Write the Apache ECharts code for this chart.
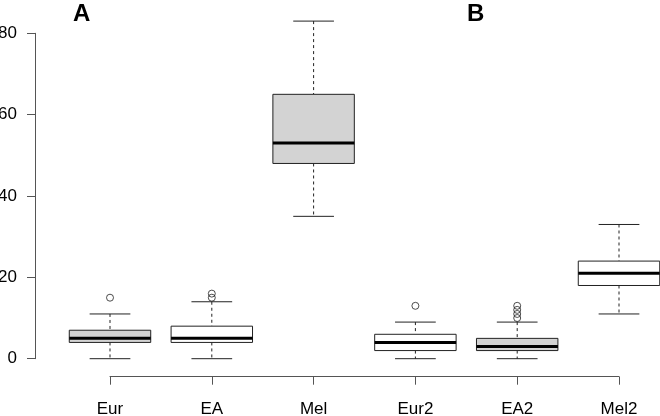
<!DOCTYPE html>
<html>
<head>
<meta charset="utf-8">
<script src="https://cdn.jsdelivr.net/npm/echarts@6/dist/echarts.min.js"></script>
<style>html,body{margin:0;padding:0;background:#fff;}#c{width:660px;height:416px;}</style>
</head>
<body>
<div id="c"></div>
<script>
const categories = ['Eur', 'EA', 'Mel', 'Eur2', 'EA2', 'Mel2'];
// [lower whisker, Q1, median, Q3, upper whisker]
const boxStats = [
  [0, 4, 5, 7, 11],
  [0, 4, 5, 8, 14],
  [35, 48, 53, 65, 83],
  [0, 2, 4, 6, 9],
  [0, 2, 3, 5, 9],
  [11, 18, 21, 24, 33]
];
const shaded = [true, false, true, false, true, false];
const outliers = [
  [0, 15],
  [1, 15], [1, 16],
  [3, 13],
  [4, 10], [4, 11], [4, 12], [4, 13]
];
const yTicks = [0, 20, 40, 60, 80];
const panelLabels = ['A', 'B'];

const chart = echarts.init(document.getElementById('c'), null, {renderer: 'canvas'});
const lineColor = '#555';
const boxData = boxStats.map((s, i) => [i].concat(s).concat([shaded[i] ? 1 : 0]));
const font = 'Liberation Sans, Arial, sans-serif';

chart.setOption({
  animation: false,
  backgroundColor: '#fff',
  title: [
    {text: panelLabels[0], left: 68, top: -3, textStyle: {fontFamily: font, fontSize: 24, fontWeight: 'bold', color: '#000'}},
    {text: panelLabels[1], left: 462, top: -3, textStyle: {fontFamily: font, fontSize: 24, fontWeight: 'bold', color: '#000'}}
  ],
  grid: {left: 110, right: 41, top: 33.3, bottom: 57.3, containLabel: false, outerBoundsMode: 'none'},
  xAxis: {
    type: 'category',
    data: categories,
    boundaryGap: false,
    offset: 18,
    axisLine: {show: true, onZero: false, lineStyle: {color: lineColor, width: 1}},
    axisTick: {show: true, length: 8, inside: false, alignWithLabel: true, lineStyle: {color: lineColor}},
    axisLabel: {margin: 24, fontSize: 17, color: '#000', fontFamily: font},
    splitLine: {show: false}
  },
  yAxis: {
    type: 'value',
    min: yTicks[0],
    max: yTicks[yTicks.length - 1],
    interval: 20,
    offset: 75,
    axisLine: {show: true, onZero: false, lineStyle: {color: lineColor, width: 1}},
    axisTick: {show: true, length: 8, lineStyle: {color: lineColor}},
    axisLabel: {margin: 18, fontSize: 17, color: '#000', fontFamily: font},
    splitLine: {show: false}
  },
  series: [
    {
      type: 'custom',
      clip: false,
      data: boxData,
      renderItem: function (params, api) {
        const x = api.value(0);
        const lo = api.coord([x, api.value(1)]);
        const q1 = api.coord([x, api.value(2)]);
        const md = api.coord([x, api.value(3)]);
        const q3 = api.coord([x, api.value(4)]);
        const hi = api.coord([x, api.value(5)]);
        const fill = api.value(6) ? '#d3d3d3' : '#ffffff';
        const step = api.size([1, 0])[0];
        const hw = step * 0.4;
        const cw = hw / 2;
        const cx = lo[0];
        const border = '#222';
        return {
          type: 'group',
          children: [
            {type: 'line', shape: {x1: cx, y1: hi[1], x2: cx, y2: q3[1]}, style: {stroke: border, lineWidth: 1, lineDash: [3, 3]}},
            {type: 'line', shape: {x1: cx, y1: q1[1], x2: cx, y2: lo[1]}, style: {stroke: border, lineWidth: 1, lineDash: [3, 3]}},
            {type: 'line', shape: {x1: cx - cw, y1: hi[1], x2: cx + cw, y2: hi[1]}, style: {stroke: border, lineWidth: 1}},
            {type: 'line', shape: {x1: cx - cw, y1: lo[1], x2: cx + cw, y2: lo[1]}, style: {stroke: border, lineWidth: 1}},
            {type: 'rect', shape: {x: cx - hw, y: q3[1], width: 2 * hw, height: q1[1] - q3[1]}, style: {fill: fill, stroke: border, lineWidth: 1}},
            {type: 'line', shape: {x1: cx - hw, y1: md[1], x2: cx + hw, y2: md[1]}, style: {stroke: '#000', lineWidth: 3}}
          ]
        };
      }
    },
    {
      type: 'scatter',
      data: outliers,
      symbol: 'circle',
      symbolSize: 7,
      itemStyle: {color: 'rgba(255,255,255,0)', borderColor: '#222', borderWidth: 1},
      clip: false
    }
  ]
});
</script>
</body>
</html>
